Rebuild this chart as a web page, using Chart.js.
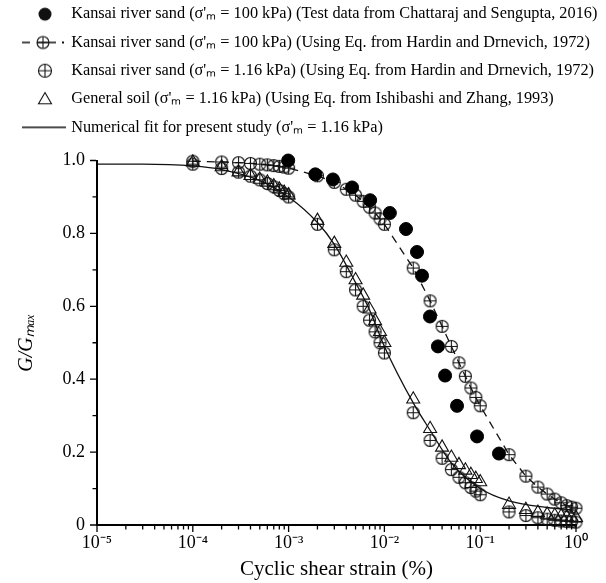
<!DOCTYPE html>
<html>
<head>
<meta charset="utf-8">
<script src="https://cdn.jsdelivr.net/npm/chart.js@4.4.1/dist/chart.umd.min.js"></script>
<style>
  html, body { margin: 0; padding: 0; background: #fff; }
</style>
</head>
<body>
<canvas id="myChart" width="606" height="583"></canvas>
<script>
const FONT = "'Liberation Serif', 'Times New Roman', serif";

// Kansai river sand, 100 kPa, test data (Chattaraj and Sengupta, 2016)
const testStrain = [0.00099, 0.0019, 0.0029, 0.0046, 0.0071, 0.0114, 0.0168, 0.0219, 0.0247, 0.0299, 0.0362, 0.043, 0.0573, 0.0927, 0.157];
const testG = [1.0, 0.962, 0.948, 0.926, 0.891, 0.856, 0.812, 0.749, 0.684, 0.572, 0.49, 0.41, 0.327, 0.243, 0.196];

// strains where the equation curves were evaluated
const eqStrain = [
  0.0001, 0.0002, 0.0003, 0.0004, 0.0005, 0.0006, 0.0007, 0.0008, 0.0009,
  0.001, 0.002, 0.003, 0.004, 0.005, 0.006, 0.007, 0.008, 0.009,
  0.01, 0.02, 0.03, 0.04, 0.05, 0.06, 0.07, 0.08, 0.09,
  0.1, 0.2, 0.3, 0.4, 0.5, 0.6, 0.7, 0.8, 0.9, 1.0
];
// Hardin and Drnevich, 100 kPa
const hd100G = [
  0.998, 0.996, 0.994, 0.992, 0.99, 0.988, 0.986, 0.984, 0.982,
  0.979, 0.958, 0.94, 0.921, 0.905, 0.888, 0.872, 0.856, 0.84,
  0.825, 0.705, 0.615, 0.545, 0.49, 0.445, 0.408, 0.376, 0.35,
  0.327, 0.193, 0.134, 0.104, 0.085, 0.071, 0.061, 0.053, 0.049, 0.046
];
// Hardin and Drnevich, 1.16 kPa
const hd116G = [
  0.99, 0.978, 0.968, 0.957, 0.947, 0.937, 0.928, 0.918, 0.909,
  0.90, 0.825, 0.755, 0.695, 0.645, 0.6, 0.562, 0.53, 0.5,
  0.472, 0.308, 0.232, 0.183, 0.152, 0.131, 0.116, 0.103, 0.093,
  0.083, 0.036, 0.026, 0.02, 0.016, 0.013, 0.011, 0.01, 0.009, 0.008
];
// General soil, Ishibashi and Zhang, 1.16 kPa
const izG = [
  0.995, 0.982, 0.968, 0.958, 0.948, 0.94, 0.93, 0.921, 0.912,
  0.905, 0.835, 0.772, 0.72, 0.672, 0.63, 0.592, 0.56, 0.53,
  0.50, 0.345, 0.264, 0.213, 0.185, 0.165, 0.15, 0.138, 0.127,
  0.118, 0.056, 0.042, 0.034, 0.029, 0.026, 0.024, 0.022, 0.021, 0.02
];
// numerical fit, present study
const fitStrain = [0.00001, 0.00003, 0.0001, 0.0002, 0.0005, 0.001, 0.002, 0.003, 0.005, 0.007, 0.01, 0.02, 0.03, 0.05, 0.1, 0.2, 0.5, 1.0];
const fitG = [0.99, 0.99, 0.985, 0.975, 0.945, 0.9, 0.83, 0.77, 0.665, 0.59, 0.49, 0.335, 0.26, 0.17, 0.1, 0.066, 0.048, 0.041];

const seriesNames = [
  "Kansai river sand (σ'ₘ = 100 kPa) (Test data from Chattaraj and Sengupta, 2016)",
  "Kansai river sand (σ'ₘ = 100 kPa) (Using Eq. from Hardin and Drnevich, 1972)",
  "Kansai river sand (σ'ₘ = 1.16 kPa) (Using Eq. from Hardin and Drnevich, 1972)",
  "General soil (σ'ₘ = 1.16 kPa) (Using Eq. from Ishibashi and Zhang, 1993)",
  "Numerical fit for present study (σ'ₘ = 1.16 kPa)"
];
const decadeLabels = ['10⁻⁵', '10⁻⁴', '10⁻³', '10⁻²', '10⁻¹', '10⁰'];
const yTickLabels = ['0', '0.2', '0.4', '0.6', '0.8', '1.0'];

function zip(xs, ys) {
  return xs.map((x, i) => ({ x: x, y: ys[i] }));
}

function makeCanvas(w, h, draw) {
  const c = document.createElement('canvas');
  c.width = w; c.height = h;
  const g = c.getContext('2d');
  g.strokeStyle = '#111';
  g.fillStyle = '#111';
  g.lineWidth = 1.1;
  draw(g);
  return c;
}
function circlePlus(g, cx, cy, r) {
  g.beginPath(); g.arc(cx, cy, r, 0, Math.PI * 2); g.stroke();
  g.beginPath();
  g.moveTo(cx - r, cy); g.lineTo(cx + r, cy);
  g.moveTo(cx, cy - r); g.lineTo(cx, cy + r);
  g.stroke();
}
function triangle(g, cx, cy, r) {
  g.beginPath();
  for (let k = 0; k < 3; k++) {
    const a = -Math.PI / 2 + k * 2 * Math.PI / 3;
    g[k ? 'lineTo' : 'moveTo'](cx + r * Math.cos(a), cy + r * Math.sin(a));
  }
  g.closePath(); g.stroke();
}

const plusMark = makeCanvas(15, 15, g => circlePlus(g, 7.5, 7.5, 6));

const legendIcons = [
  makeCanvas(16, 16, g => { g.beginPath(); g.arc(8, 8, 6.5, 0, Math.PI * 2); g.fill(); }),
  makeCanvas(46, 16, g => {
    g.lineWidth = 1.3;
    g.beginPath(); g.moveTo(0, 8); g.lineTo(8, 8); g.moveTo(15, 8); g.lineTo(34, 8); g.stroke();
    g.fillRect(40, 7, 2, 2);
    g.lineWidth = 1.1;
    circlePlus(g, 21, 8, 6);
  }),
  makeCanvas(16, 16, g => circlePlus(g, 8, 8, 6.5)),
  makeCanvas(18, 16, g => triangle(g, 9, 9, 7.5)),
  makeCanvas(46, 4, g => { g.lineWidth = 1.3; g.beginPath(); g.moveTo(0, 2); g.lineTo(44, 2); g.stroke(); })
];

function isDecade(v) {
  const e = Math.log10(v);
  return Math.abs(e - Math.round(e)) < 1e-6;
}

// extra room under the legend, and let its text run to the canvas edge
const legendSpace = {
  id: 'legendSpace',
  beforeInit(chart) {
    const fit = chart.legend.fit;
    chart.legend.fit = function () {
      fit.bind(chart.legend)();
      this.height += 15;
    };
  },
  afterLayout(chart) {
    chart.legend.right = chart.width;
    chart.legend.width = chart.width - chart.legend.left;
  }
};

const tickMarks = {
  id: 'tickMarks',
  afterDraw(chart) {
    const { ctx, chartArea, scales } = chart;
    const x = scales.x, y = scales.y;
    ctx.save();
    ctx.strokeStyle = '#000';
    ctx.lineWidth = 1.3;
    ctx.beginPath();
    x.ticks.forEach(t => {
      const px = x.getPixelForValue(t.value);
      const len = isDecade(t.value) ? 6 : 3.5;
      ctx.moveTo(px, chartArea.bottom + 1);
      ctx.lineTo(px, chartArea.bottom + 1 + len);
    });
    y.ticks.forEach(t => {
      const py = y.getPixelForValue(t.value);
      const len = Math.round(t.value * 10) % 2 ? 3.5 : 6;
      ctx.moveTo(chartArea.left - 1, py);
      ctx.lineTo(chartArea.left - 1 - len, py);
    });
    ctx.stroke();
    ctx.restore();
  }
};

const ctx = document.getElementById('myChart').getContext('2d');
const myChart = new Chart(ctx, {
  type: 'scatter',
  data: {
    datasets: [
      {
        label: seriesNames[0],
        data: zip(testStrain, testG),
        pointStyle: 'circle',
        pointRadius: 6.5,
        backgroundColor: '#000',
        borderColor: '#000',
        showLine: false,
        clip: false
      },
      {
        label: seriesNames[1],
        data: zip(eqStrain, hd100G),
        pointStyle: plusMark,
        pointRadius: 6,
        showLine: true,
        borderDash: [8, 6],
        borderColor: '#111',
        borderWidth: 1.3,
        clip: false
      },
      {
        label: seriesNames[2],
        data: zip(eqStrain, hd116G),
        pointStyle: plusMark,
        pointRadius: 6,
        showLine: false,
        clip: false
      },
      {
        label: seriesNames[3],
        data: zip(eqStrain, izG),
        pointStyle: 'triangle',
        pointRadius: 7.5,
        borderWidth: 1.1,
        borderColor: '#111',
        backgroundColor: 'rgba(0,0,0,0)',
        showLine: false,
        clip: false
      },
      {
        label: seriesNames[4],
        data: zip(fitStrain, fitG),
        showLine: true,
        pointRadius: 0,
        borderColor: '#111',
        borderWidth: 1.3,
        cubicInterpolationMode: 'monotone',
        clip: false
      }
    ]
  },
  options: {
    responsive: false,
    animation: false,
    devicePixelRatio: 1,
    layout: { padding: { left: 15, right: 30, top: -6, bottom: 0 } },
    plugins: {
      tooltip: { enabled: false },
      legend: {
        position: 'top',
        align: 'start',
        labels: {
          usePointStyle: true,
          pointStyleWidth: 36,
          padding: 12,
          color: '#000',
          font: { family: FONT, size: 16.3 },
          generateLabels: chart => chart.data.datasets.map((ds, i) => ({
            text: ds.label,
            pointStyle: legendIcons[i],
            datasetIndex: i,
            fillStyle: '#000',
            strokeStyle: '#000',
            lineWidth: 0,
            hidden: false
          }))
        }
      }
    },
    scales: {
      x: {
        type: 'logarithmic',
        min: 0.00001,
        max: 1,
        afterFit: s => { s.height = 58; },
        afterBuildTicks: s => {
          const vals = [];
          for (let e = -5; e < 0; e++) {
            for (let m = 1; m < 10; m++) vals.push(m * Math.pow(10, e));
          }
          vals.push(1);
          s.ticks = vals.map(v => ({ value: v }));
        },
        border: { display: true, color: '#000', width: 2 },
        grid: { display: false, drawTicks: false, tickLength: 0 },
        ticks: {
          autoSkip: false,
          maxRotation: 0,
          padding: 7,
          color: '#000',
          font: { family: FONT, size: 18 },
          callback: v => isDecade(v) ? decadeLabels[Math.round(Math.log10(v)) + 5] : ''
        },
        title: {
          display: true,
          text: 'Cyclic shear strain (%)',
          color: '#000',
          font: { family: FONT, size: 21 },
          padding: { top: 0, bottom: 1 }
        }
      },
      y: {
        min: 0,
        max: 1,
        afterFit: s => { s.width = 82; },
        border: { display: true, color: '#000', width: 2 },
        grid: { display: false, drawTicks: false, tickLength: 0 },
        ticks: {
          stepSize: 0.1,
          autoSkip: false,
          padding: 12,
          color: '#000',
          font: { family: FONT, size: 18 },
          callback: v => {
            const k = Math.round(v * 10);
            return k % 2 ? '' : yTickLabels[k / 2];
          }
        },
        title: {
          display: true,
          text: 'G/Gₘₐₓ',
          color: '#000',
          font: { family: FONT, size: 20, style: 'italic' },
          padding: { top: 0, bottom: 0 }
        }
      }
    }
  },
  plugins: [legendSpace, tickMarks]
});
</script>
</body>
</html>
